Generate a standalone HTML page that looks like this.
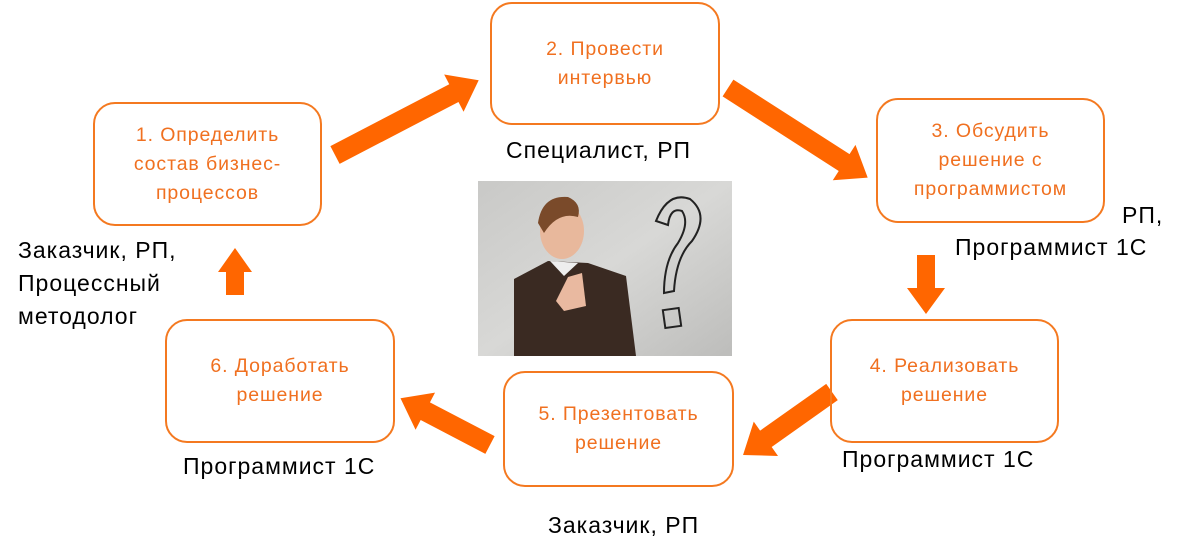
<!DOCTYPE html>
<html><head><meta charset="utf-8"><style>
body{margin:0;background:#fff;width:1189px;height:560px;overflow:hidden;position:relative;font-family:"Liberation Sans","DejaVu Sans",sans-serif}
.b{position:absolute;border:2px solid #f47920;border-radius:22px;box-sizing:border-box;display:flex;align-items:center;justify-content:center;text-align:center;color:#f07020;font-size:19.5px;line-height:29px;letter-spacing:0.9px}
.l{position:absolute;font-size:23px;color:#000;line-height:27px;white-space:nowrap;letter-spacing:1px}
svg{position:absolute;left:0;top:0}
</style></head><body>
<svg width="1189" height="560">
<g fill="#ff6600">
<g transform="translate(335,155) rotate(-27.5)"><polygon points="0,-10 134,-10 134,-21 162,0 134,21 134,10 0,10"/></g>
<g transform="translate(728,88) rotate(32.7)"><polygon points="0,-10 138,-10 138,-21 166,0 138,21 138,10 0,10"/></g>
<g transform="translate(926,255) rotate(90)"><polygon points="0,-9 33,-9 33,-19 59,0 33,19 33,9 0,9"/></g>
<g transform="translate(832,392) rotate(144.7)"><polygon points="0,-10 81,-10 81,-21 109,0 81,21 81,10 0,10"/></g>
<g transform="translate(490,445) rotate(207.6)"><polygon points="0,-10 73,-10 73,-21 101,0 73,21 73,10 0,10"/></g>
<g transform="translate(235,295) rotate(-90)"><polygon points="0,-9 23,-9 23,-17 47,0 23,17 23,9 0,9"/></g>
</g>
<defs><linearGradient id="bg" x1="0" y1="0" x2="1" y2="1"><stop offset="0" stop-color="#c9c9c7"/><stop offset="0.5" stop-color="#d8d8d6"/><stop offset="1" stop-color="#bdbdbb"/></linearGradient></defs>
<g transform="translate(478,181)">
<rect width="254" height="175" fill="url(#bg)"/>
<path d="M36,98 L70,80 L110,82 L148,95 L158,175 L36,175 Z" fill="#3a2a22"/>
<path d="M72,80 L86,95 L100,82 Z" fill="#eee"/>
<path d="M78,120 L90,96 L104,92 L108,125 L86,130 Z" fill="#e9b9a0"/>
<ellipse cx="84" cy="50" rx="22" ry="28" fill="#e8b89c"/>
<path d="M60,42 Q64,14 90,16 Q104,22 100,36 Q80,30 66,52 Z" fill="#7a4a2a"/>
<path d="M178,40 Q190,10 212,18 Q232,34 214,60 Q198,76 196,110 L186,112 Q186,80 200,62 Q212,42 204,30 Q192,26 190,44 Z" fill="none" stroke="#222" stroke-width="2"/>
<rect x="186" y="128" width="16" height="18" fill="none" stroke="#222" stroke-width="2" transform="rotate(-8 194 137)"/>
</g>
</svg>
<div class="b" style="left:93px;top:102px;width:229px;height:124px">1. Определить<br>состав бизнес-<br>процессов</div>
<div class="b" style="left:490px;top:2px;width:230px;height:123px">2. Провести<br>интервью</div>
<div class="b" style="left:876px;top:98px;width:229px;height:125px">3. Обсудить<br>решение с<br>программистом</div>
<div class="b" style="left:830px;top:319px;width:229px;height:124px">4. Реализовать<br>решение</div>
<div class="b" style="left:503px;top:371px;width:231px;height:116px">5. Презентовать<br>решение</div>
<div class="b" style="left:165px;top:319px;width:230px;height:124px">6. Доработать<br>решение</div>
<div class="l" style="left:506px;top:137px">Специалист, РП</div>
<div class="l" style="left:1122px;top:202px">РП,</div>
<div class="l" style="left:955px;top:234px">Программист 1С</div>
<div class="l" style="left:842px;top:446px">Программист 1С</div>
<div class="l" style="left:548px;top:512px">Заказчик, РП</div>
<div class="l" style="left:183px;top:453px">Программист 1С</div>
<div class="l" style="left:18px;top:234px;line-height:33px">Заказчик, РП,<br>Процессный<br>методолог</div>
</body></html>
